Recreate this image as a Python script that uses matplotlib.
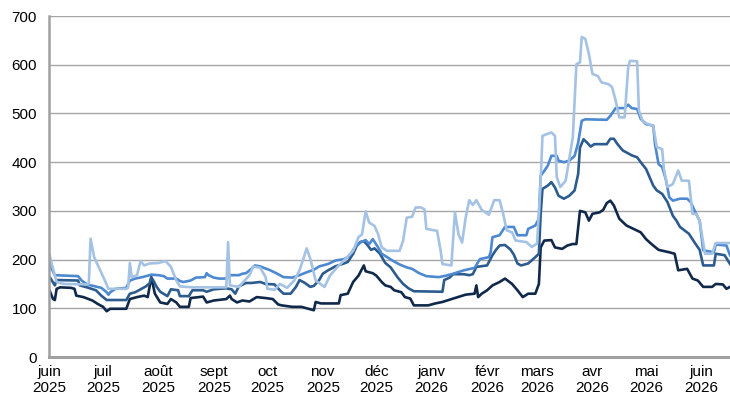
import numpy as np
import pandas as pd
import matplotlib
matplotlib.use("Agg")
import matplotlib.pyplot as plt

plt.rcParams["font.family"] = ["Liberation Sans", "DejaVu Sans"]

START = pd.Timestamp("2025-06-01")

# readings: (days since 1 June 2025, value)
navy_days = [0, 2, 3, 4, 6, 12, 14, 15, 19, 24, 27, 30, 32, 34, 43, 45, 49, 53, 55, 57, 59, 62, 66, 68, 71, 73,
             78, 79, 86, 88, 92, 99, 101, 102, 105, 108, 112, 116, 121, 125, 128, 130, 136, 141, 145, 148, 149,
             152, 162, 163, 167, 170, 173, 176, 177, 181, 183, 186, 188, 191, 193, 197, 199, 202, 204, 212, 216,
             220, 226, 233, 238, 239, 240, 242, 245, 248, 252, 255, 259, 262, 265, 268, 272, 274, 275, 277, 281,
             283, 287, 290, 293, 295, 297, 300, 302, 304, 308, 310, 312, 314, 316, 319, 323, 327, 331, 334, 337,
             341, 347, 350, 352, 357, 360, 363, 366, 371, 373, 377, 379, 381]
navy_vals = [137, 119, 117, 140, 143, 142, 140, 126, 123, 116, 109, 103, 94, 99, 99, 119, 123, 126, 123, 164, 130,
             112, 109, 119, 112, 103, 103, 121, 124, 112, 116, 119, 126, 119, 112, 116, 114, 123, 121, 119, 108,
             106, 103, 103, 99, 96, 113, 110, 110, 127, 130, 154, 167, 188, 176, 172, 167, 154, 147, 144, 137, 133,
             123, 120, 106, 106, 110, 113, 120, 128, 130, 147, 123, 130, 137, 147, 154, 161, 150, 137, 123, 130,
             130, 150, 225, 239, 240, 225, 222, 229, 232, 232, 300, 297, 280, 294, 297, 302, 316, 321, 311, 284,
             270, 263, 256, 242, 232, 220, 215, 212, 178, 181, 161, 157, 144, 144, 150, 149, 140, 144]

dark_days = [0, 3, 4, 16, 17, 21, 26, 29, 32, 43, 45, 48, 51, 54, 56, 57, 58, 60, 62, 66, 68, 72, 73, 78, 80, 86,
             88, 92, 99, 102, 104, 106, 110, 113, 118, 121, 126, 129, 131, 135, 138, 140, 141, 143, 146, 148, 151,
             153, 156, 160, 164, 167, 170, 172, 174, 176, 178, 180, 182, 185, 188, 191, 195, 198, 201, 204, 220,
             221, 224, 226, 232, 235, 237, 239, 241, 245, 248, 250, 252, 255, 258, 260, 262, 264, 268, 272, 274,
             275, 276, 279, 281, 283, 285, 288, 291, 294, 296, 297, 299, 301, 303, 305, 312, 314, 316, 318, 321,
             326, 329, 331, 334, 338, 340, 343, 346, 349, 351, 353, 358, 361, 364, 366, 372, 373, 378, 381]
dark_vals = [165, 147, 158, 157, 147, 143, 137, 126, 117, 117, 130, 133, 139, 145, 151, 163, 158, 144, 134, 125,
             139, 137, 125, 125, 137, 137, 134, 139, 141, 139, 130, 145, 152, 152, 154, 150, 149, 137, 130, 130,
             144, 158, 156, 152, 144, 146, 158, 171, 178, 186, 191, 195, 212, 228, 236, 238, 230, 220, 223, 212,
             193, 184, 163, 150, 141, 135, 134, 158, 163, 170, 170, 168, 170, 185, 186, 188, 209, 220, 229, 230,
             221, 210, 192, 188, 192, 205, 212, 294, 345, 352, 359, 348, 331, 325, 331, 342, 376, 430, 447, 440,
             432, 437, 437, 448, 448, 437, 424, 414, 410, 400, 386, 352, 342, 335, 318, 290, 280, 267, 253, 236,
             220, 188, 188, 212, 209, 191]

mid_days = [0, 2, 3, 16, 18, 21, 29, 32, 33, 34, 37, 43, 45, 48, 52, 54, 57, 61, 64, 66, 71, 73, 75, 79, 82, 87,
            88, 89, 92, 95, 99, 101, 106, 108, 110, 113, 115, 118, 120, 123, 127, 131, 136, 140, 144, 148, 151,
            153, 156, 160, 165, 168, 171, 174, 177, 179, 181, 184, 186, 189, 192, 196, 200, 203, 207, 211, 218,
            222, 226, 232, 238, 240, 241, 246, 247, 248, 252, 255, 260, 262, 267, 268, 272, 274, 275, 277, 279,
            281, 284, 285, 288, 291, 294, 296, 298, 300, 312, 314, 317, 322, 324, 326, 329, 331, 334, 338, 339,
            341, 343, 345, 347, 349, 353, 357, 359, 362, 364, 366, 372, 373, 379, 381]
mid_vals = [192, 175, 168, 166, 157, 149, 142, 133, 128, 133, 140, 142, 157, 161, 164, 166, 169, 168, 166, 161,
            161, 156, 154, 157, 163, 164, 172, 168, 163, 161, 161, 168, 168, 171, 172, 181, 188, 186, 183, 179,
            172, 164, 163, 168, 174, 179, 186, 188, 191, 198, 201, 208, 225, 235, 240, 232, 242, 225, 212, 205,
            198, 190, 184, 181, 172, 166, 164, 167, 171, 178, 183, 195, 201, 205, 215, 246, 250, 267, 267, 250,
            250, 263, 270, 284, 372, 382, 393, 413, 413, 403, 400, 403, 413, 440, 485, 488, 487, 495, 511, 511,
            518, 511, 509, 489, 478, 475, 437, 396, 390, 366, 328, 321, 325, 325, 318, 294, 280, 219, 215, 231,
            229, 209]

light_days = [0, 2, 4, 8, 21, 22, 23, 25, 28, 31, 33, 43, 44, 45, 46, 49, 51, 53, 56, 61, 65, 68, 71, 73, 80, 99,
              100, 101, 106, 112, 114, 118, 121, 122, 126, 129, 133, 137, 140, 144, 146, 149, 154, 157, 161, 164,
              170, 173, 175, 177, 179, 182, 184, 186, 189, 196, 198, 200, 203, 205, 208, 210, 211, 217, 219, 220,
              225, 227, 229, 231, 233, 235, 237, 239, 242, 246, 249, 252, 254, 256, 259, 261, 267, 270, 273, 275,
              276, 278, 281, 283, 284, 286, 289, 293, 295, 297, 298, 300, 302, 304, 307, 309, 313, 315, 317, 319,
              322, 324, 325, 329, 330, 332, 335, 338, 340, 343, 344, 346, 349, 352, 354, 358, 360, 362, 364, 367,
              371, 373, 381]
light_vals = [209, 181, 154, 150, 149, 150, 243, 205, 181, 157, 140, 140, 142, 193, 164, 168, 197, 188, 192, 193,
              197, 185, 157, 145, 143, 143, 236, 147, 144, 168, 186, 183, 164, 140, 138, 150, 142, 157, 178, 223,
              202, 157, 144, 167, 184, 195, 218, 246, 252, 299, 276, 269, 252, 225, 218, 218, 239, 286, 288, 307,
              307, 303, 263, 259, 218, 191, 188, 297, 252, 235, 286, 322, 312, 322, 302, 292, 322, 322, 294, 260,
              256, 239, 236, 226, 233, 362, 454, 457, 461, 454, 369, 349, 362, 451, 601, 605, 657, 653, 622, 581,
              577, 564, 560, 554, 526, 492, 492, 595, 608, 607, 506, 485, 478, 475, 431, 427, 386, 349, 355, 383,
              362, 362, 294, 294, 280, 212, 212, 234, 234]

series = [
    (navy_days, navy_vals, "#10284a"),
    (dark_days, dark_vals, "#2c5b8e"),
    (mid_days, mid_vals, "#4d89d0"),
    (light_days, light_vals, "#a4c2e4"),
]

months = pd.date_range("2025-06-01", "2026-06-01", freq="MS")
month_names = ["juin", "juil", "août", "sept", "oct", "nov", "déc",
               "janv", "févr", "mars", "avr", "mai", "juin"]


def to_dates(days):
    return START + pd.to_timedelta(np.asarray(days, dtype=float), unit="D")


fig = plt.figure(figsize=(7.30, 4.01), dpi=100)
ax = fig.add_axes([0.0678, 0.1097, 0.9322, 0.8503])

for d, v, c in series:
    ax.plot(to_dates(d), v, color=c, lw=1.9, solid_joinstyle="round")

ax.set_ylim(0, 700)
ax.set_yticks(range(0, 701, 100))
ax.set_xlim(START, START + pd.Timedelta(days=381))
ax.set_xticks(months)
ax.set_xticklabels([f"{m}\n{t.year}" for m, t in zip(month_names, months)])

ax.grid(axis="y", color="#a6a6a6", lw=1.0)
ax.set_axisbelow(True)
for s in ["top", "right"]:
    ax.spines[s].set_visible(False)
ax.spines["left"].set_color("#a0a0a0")
ax.spines["left"].set_linewidth(1.8)
ax.spines["bottom"].set_color("#a0a0a0")
ax.spines["bottom"].set_linewidth(2.2)
ax.tick_params(axis="both", length=0, labelsize=11, colors="#000000")
ax.tick_params(axis="y", pad=9)
ax.tick_params(axis="x", pad=6)
for lab in ax.get_xticklabels():
    lab.set_linespacing(1.15)

fig.savefig("out.png", dpi=100)
